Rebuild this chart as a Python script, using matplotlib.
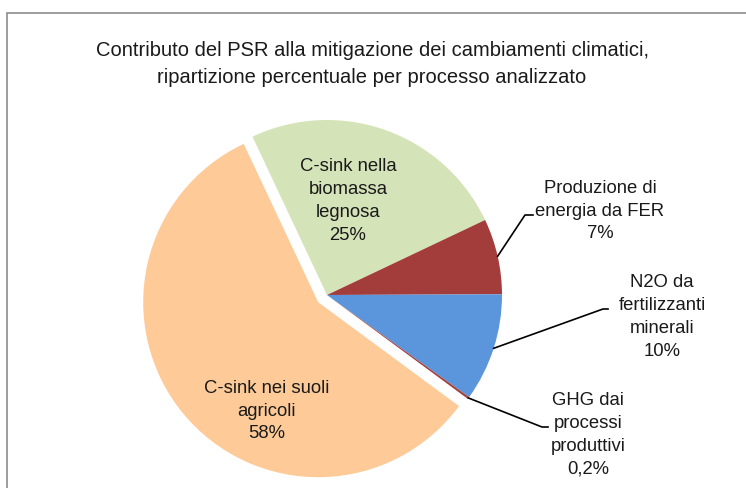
import matplotlib.pyplot as plt
import numpy as np
from matplotlib.patches import Rectangle

# Dati
labels = ['C-sink nella\nbiomassa\nlegnosa', 'Produzione di\nenergia da FER',
          'N2O da\nfertilizzanti\nminerali', 'GHG dai\nprocessi\nproduttivi',
          'C-sink nei suoli\nagricoli']
values = [25, 7, 10, 0.2, 58]
pct_text = ['25%', '7%', '10%', '0,2%', '58%']
colors = ['#D5E3B8', '#A23D3B', '#5B95DB', '#A23D3B', '#FECB98']
explode = [0, 0, 0, 0, 0.065]

title = ('Contributo del PSR alla mitigazione dei cambiamenti climatici,\n'
         'ripartizione percentuale per processo analizzato')

W, H = 746, 488
fig = plt.figure(figsize=(W / 100, H / 100), dpi=100)
ax = fig.add_axes([0, 0, 1, 1])

# cornice del grafico
fig.patches.append(Rectangle((7 / W, -0.1), 1.2, (H - 13) / H + 0.1,
                             transform=fig.transFigure, fill=False,
                             edgecolor='#8C8C8C', linewidth=1.2))

cx, cy, R = 327, H - 295, 175
wedges, _ = ax.pie(values, colors=colors, explode=[e * R for e in explode],
                   startangle=115.2, counterclock=False, center=(cx, cy), radius=R,
                   wedgeprops=dict(edgecolor='none', linewidth=0), frame=True)
ax.set_xlim(0, W)
ax.set_ylim(0, H)
ax.set_aspect('equal')
ax.axis('off')

font = dict(family=['Liberation Sans', 'DejaVu Sans'], fontsize=13.3, color='#1a1a1a',
            ha='center', va='center', linespacing=1.45)

ax.text(372, H - 64, title, fontsize=14.5, ha='center', va='center',
        family=['Liberation Sans', 'DejaVu Sans'], linespacing=1.5, color='#1a1a1a')

# etichette interne
ax.text(348, H - 201, labels[0] + '\n' + pct_text[0], **font)
ax.text(267, H - 411, labels[4] + '\n' + pct_text[4], **font)

# etichette esterne con linee guida
outer = [(1, (600, H - 211), (525, H - 215), (533, H - 215)),
         (2, (662, H - 317), (603, H - 309), (608, H - 309)),
         (3, (588, H - 435), (542, H - 427), (548, H - 427))]
for i, pos, elbow, end in outer:
    w = wedges[i]
    ang = np.deg2rad((w.theta1 + w.theta2) / 2)
    x0 = w.center[0] + w.r * np.cos(ang)
    y0 = w.center[1] + w.r * np.sin(ang)
    ax.plot([x0, elbow[0], end[0]], [y0, elbow[1], end[1]], color='black', lw=1.2)
    ax.text(pos[0], pos[1], labels[i] + '\n' + pct_text[i], **font)

plt.savefig('out.png', dpi=100)
